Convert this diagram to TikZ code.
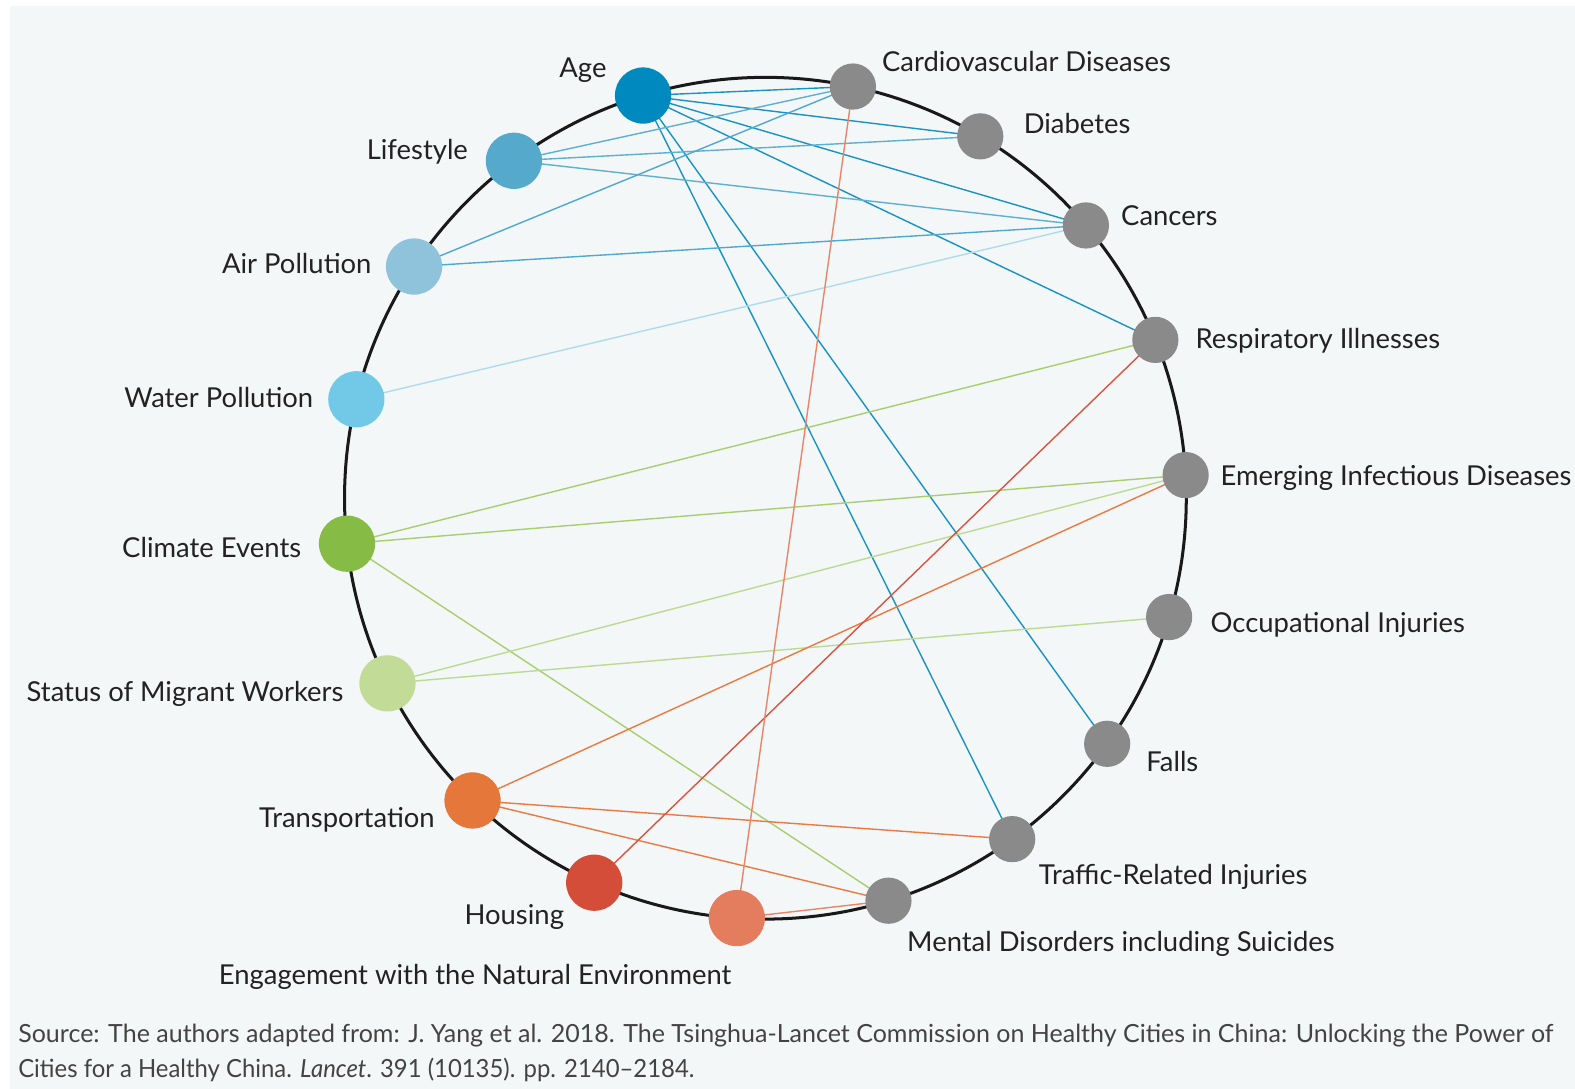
\documentclass[tikz,border=0pt]{standalone}
\usepackage{fontspec}
\setmainfont{Lato}
\usetikzlibrary{calc}
\definecolor{panel}{HTML}{F3F7F8}
\definecolor{txt}{HTML}{222222}
\definecolor{cAge}{HTML}{0089BE}
\definecolor{cLife}{HTML}{55AACB}
\definecolor{cAir}{HTML}{8EC3DB}
\definecolor{cWater}{HTML}{72C9E7}
\definecolor{cClim}{HTML}{86BB46}
\definecolor{cStat}{HTML}{C2DC98}
\definecolor{cTrans}{HTML}{E5773A}
\definecolor{cHous}{HTML}{D44D38}
\definecolor{cEng}{HTML}{E47D5E}
\definecolor{cGrey}{HTML}{8A8A8A}
\definecolor{eAge}{HTML}{1A92C4}
\definecolor{eLife}{HTML}{5DB0D2}
\definecolor{eAir}{HTML}{4FA8D2}
\definecolor{eWater}{HTML}{AEDBEE}
\definecolor{eClim}{HTML}{A8CE70}
\definecolor{eStat}{HTML}{BCDA92}
\definecolor{eTrans}{HTML}{EC7A40}
\definecolor{eHous}{HTML}{DA5440}
\definecolor{eEng}{HTML}{EA8568}
\pgfdeclarelayer{bg}
\pgfdeclarelayer{edges}
\pgfsetlayers{bg,edges,main}
\tikzset{
  detnode/.style={circle, fill=#1, minimum size=56pt, inner sep=0pt},
  outnode/.style={circle, fill=cGrey, minimum size=46pt, inner sep=0pt},
  lbl/.style={font=\fontsize{27.3}{32}\selectfont, text=txt, inner sep=0pt},
  srctext/.style={font=\fontsize{24.9}{30}\selectfont, text=txt!85, anchor=base west, inner sep=0pt},
  linkline/.style={draw=#1, line width=1.4pt},
  ringline/.style={draw=black!90, line width=3pt}
}
\begin{document}
\begin{tikzpicture}[x=1pt,y=-1pt]
\useasboundingbox (0,0) rectangle (1568,1084);
\begin{pgfonlayer}{bg}
  \fill[white] (0,0) rectangle (1568,1084);
  \fill[panel] (10,6) rectangle (1568,1084);
\end{pgfonlayer}
\coordinate (C) at (762,496);
% determinants
\node[detnode=cAge]   (age)   at ($(C)+(-106.9:419)$) {};
\node[detnode=cLife]  (life)  at ($(C)+(-126.7:419)$) {};
\node[detnode=cAir]   (air)   at ($(C)+(-146.6:419)$) {};
\node[detnode=cWater] (water) at ($(C)+(-166.4:419)$) {};
\node[detnode=cClim]  (clim)  at ($(C)+(-186.2:419)$) {};
\node[detnode=cStat]  (stat)  at ($(C)+(-206.1:419)$) {};
\node[detnode=cTrans] (trans) at ($(C)+(-225.9:419)$) {};
\node[detnode=cHous]  (hous)  at ($(C)+(-246.0:419)$) {};
\node[detnode=cEng]   (eng)   at ($(C)+(-266.1:419)$) {};
% outcomes
\node[outnode] (ment)  at ($(C)+(-287.0:419)$) {};
\node[outnode] (traf)  at ($(C)+(-305.9:419)$) {};
\node[outnode] (fall)  at ($(C)+(-324.3:419)$) {};
\node[outnode] (occu)  at ($(C)+(-343.6:419)$) {};
\node[outnode] (emer)  at ($(C)+(-3.15:419)$) {};
\node[outnode] (resp)  at ($(C)+(-22.1:419)$) {};
\node[outnode] (canc)  at ($(C)+(-40.4:419)$) {};
\node[outnode] (diab)  at ($(C)+(-59.3:419)$) {};
\node[outnode] (card)  at ($(C)+(-78.0:419)$) {};
% ring and links
\begin{pgfonlayer}{edges}
  \node[circle, ringline, minimum size=838pt, inner sep=0pt] (ringc) at (C) {};
  \foreach \t in {card,diab,canc,resp,fall,traf}
    \draw[linkline=eAge] (age.center) -- (\t.center);
  \foreach \t in {card,diab,canc}
    \draw[linkline=eLife] (life.center) -- (\t.center);
  \foreach \t in {card,canc}
    \draw[linkline=eAir] (air.center) -- (\t.center);
  \draw[linkline=eWater] (water.center) -- (canc.center);
  \foreach \t in {resp,emer,ment}
    \draw[linkline=eClim] (clim.center) -- (\t.center);
  \foreach \t in {emer,occu}
    \draw[linkline=eStat] (stat.center) -- (\t.center);
  \foreach \t in {emer,traf,ment}
    \draw[linkline=eTrans] (trans.center) -- (\t.center);
  \draw[linkline=eHous] (hous.center) -- (resp.center);
  \foreach \t in {card,ment}
    \draw[linkline=eEng] (eng.center) -- (\t.center);
\end{pgfonlayer}
% labels
\node[lbl, anchor=mid east] (lage)   at (604,75)  {Age};
\node[lbl, anchor=mid east] (llife)  at (466,156) {Lifestyle};
\node[lbl, anchor=mid east] (lair)   at (370,270) {Air Pollution};
\node[lbl, anchor=mid east] (lwater) at (312,403) {Water Pollution};
\node[lbl, anchor=mid east] (lclim)  at (300,552) {Climate Events};
\node[lbl, anchor=mid east] (lstat)  at (342,696) {Status of Migrant Workers};
\node[lbl, anchor=mid east] (ltrans) at (433,821) {Transportation};
\node[lbl, anchor=mid]      (lhous)  at (512,918) {Housing};
\node[lbl, anchor=mid]      (leng)   at (473,978) {Engagement with the Natural Environment};
\node[lbl, anchor=mid west] (lment)  at (903,945) {Mental Disorders including Suicides};
\node[lbl, anchor=mid west] (ltraf)  at (1034,878) {Traffic-Related Injuries};
\node[lbl, anchor=mid west] (lfall)  at (1141,766) {Falls};
\node[lbl, anchor=mid west] (loccu)  at (1205,627) {Occupational Injuries};
\node[lbl, anchor=mid west] (lemer)  at (1215,481) {Emerging Infectious Diseases};
\node[lbl, anchor=mid west] (lresp)  at (1190,344) {Respiratory Illnesses};
\node[lbl, anchor=mid west] (lcanc)  at (1116,222) {Cancers};
\node[lbl, anchor=mid west] (ldiab)  at (1019,130) {Diabetes};
\node[lbl, anchor=mid west] (lcard)  at (878,69)  {Cardiovascular Diseases};
% source
\node[srctext] (src1) at (18,1038)
  {Source: The authors adapted from: J. Yang et al. 2018. The Tsinghua-Lancet Commission on Healthy Cities in China: Unlocking the Power of};
\node[srctext] (src2) at (18,1073)
  {\scalebox{0.955}[1]{Cities for a Healthy China. \textit{Lancet}. 391 (10135). pp. 2140–2184.}};
\end{tikzpicture}
\end{document}
